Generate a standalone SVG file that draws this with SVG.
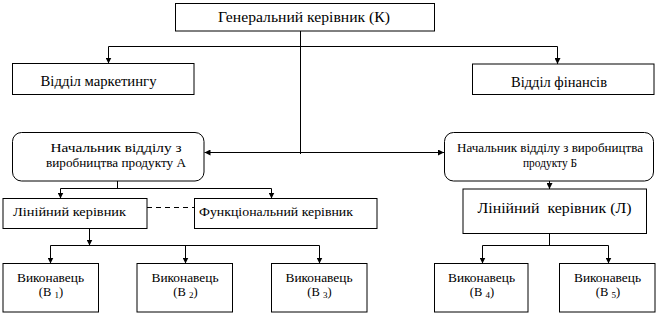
<svg xmlns="http://www.w3.org/2000/svg" width="668" height="316" viewBox="0 0 668 316">
<defs>
<marker id="ah" viewBox="0 0 6 6" refX="6" refY="3" markerWidth="6" markerHeight="6" markerUnits="userSpaceOnUse" orient="auto">
<path d="M0,0 L6,3 L0,6 z" fill="#000"/>
</marker>
<style>
rect{fill:#fff;stroke:#000;stroke-width:1}
text{font-family:'Liberation Serif','DejaVu Serif','Times New Roman',serif;fill:#000;text-anchor:middle}
.b{font-size:14px}
.s{font-size:11.5px}
.e{font-size:12.5px}
.sub{font-size:9px}
.c path{fill:none;stroke:#000;stroke-width:1}
.a{marker-end:url(#ah)}
</style>
</defs>
<g class="c" id="connectors">
<path d="M300.5,31 V154"/>
<path d="M108.5,46.5 H557.5"/>
<path class="a" d="M108.5,46.5 V63.5"/>
<path class="a" d="M557.5,46.5 V64"/>
<path class="a" d="M300.5,152.5 H204.5"/>
<path class="a" d="M300.5,152.5 H444"/>
<path d="M117.5,181 V188.5 M60.5,188.5 H271.5"/>
<path class="a" d="M60.5,188.5 V198.5"/>
<path class="a" d="M271.5,188.5 V198.5"/>
<path d="M147,207.5 H194.5" stroke-dasharray="5,4"/>
<path class="a" d="M89.5,228.5 V245.5"/>
<path d="M50.5,245.5 H319.5"/>
<path class="a" d="M50.5,245.5 V263.5"/>
<path class="a" d="M185.5,245.5 V263.5"/>
<path class="a" d="M319.5,245.5 V263.5"/>
<path class="a" d="M549.5,181 V189"/>
<path d="M549.5,233.5 V245.5 M482.5,245.5 H608.5"/>
<path class="a" d="M482.5,245.5 V263.5"/>
<path class="a" d="M608.5,245.5 V263.5"/>
</g>
<g id="gen"><rect x="175.5" y="3.5" width="259" height="27.5"/><text class="b" x="304" y="22" textLength="172" lengthAdjust="spacingAndGlyphs">Генеральний керівник (К)</text></g>
<g id="mkt"><rect x="12.5" y="63.5" width="181.5" height="31"/><text class="b" x="98.5" y="86" textLength="116" lengthAdjust="spacingAndGlyphs">Відділ маркетингу</text></g>
<g id="fin"><rect x="472.5" y="64" width="181.5" height="30.5"/><text class="b" x="559" y="87" textLength="96" lengthAdjust="spacingAndGlyphs">Відділ фінансів</text></g>
<g id="nachA"><rect x="12.5" y="132.5" width="191.5" height="48.5" rx="9"/>
<text class="s" x="116" y="152" textLength="131" lengthAdjust="spacingAndGlyphs">Начальник відділу з</text>
<text class="s" x="116" y="167" textLength="140" lengthAdjust="spacingAndGlyphs">виробництва продукту А</text></g>
<g id="nachB"><rect x="444.5" y="132.5" width="209" height="48.5" rx="9"/>
<text class="s" x="550" y="152" textLength="186" lengthAdjust="spacingAndGlyphs">Начальник відділу з виробництва</text>
<text class="s" x="550" y="167" textLength="54" lengthAdjust="spacingAndGlyphs">продукту Б</text></g>
<g id="lin"><rect x="3" y="198.5" width="144" height="30"/><text class="e" x="69.5" y="216" textLength="113" lengthAdjust="spacingAndGlyphs">Лінійний керівник</text></g>
<g id="func"><rect x="194.5" y="198.5" width="182.5" height="30"/><text class="e" x="276" y="216" textLength="154" lengthAdjust="spacingAndGlyphs">Функціональний керівник</text></g>
<g id="linL"><rect x="463" y="189" width="183.5" height="44.5"/><text class="b" x="554.5" y="213" textLength="154" lengthAdjust="spacingAndGlyphs" xml:space="preserve">Лінійний  керівник (Л)</text></g>
<g id="v1"><rect x="3" y="263.5" width="95.5" height="48.5"/><text class="e" x="50.5" y="282" textLength="67" lengthAdjust="spacingAndGlyphs">Виконавець</text><text class="e" x="51" y="296">(В <tspan class="sub" dy="2">1</tspan><tspan dy="-2">)</tspan></text></g>
<g id="v2"><rect x="137" y="263.5" width="95.5" height="48.5"/><text class="e" x="185" y="282" textLength="67" lengthAdjust="spacingAndGlyphs">Виконавець</text><text class="e" x="185.5" y="296">(В <tspan class="sub" dy="2">2</tspan><tspan dy="-2">)</tspan></text></g>
<g id="v3"><rect x="271.5" y="263.5" width="95.5" height="48.5"/><text class="e" x="319" y="282" textLength="67" lengthAdjust="spacingAndGlyphs">Виконавець</text><text class="e" x="319.5" y="296">(В <tspan class="sub" dy="2">3</tspan><tspan dy="-2">)</tspan></text></g>
<g id="v4"><rect x="434.5" y="263.5" width="93.5" height="48.5"/><text class="e" x="481.5" y="282" textLength="67" lengthAdjust="spacingAndGlyphs">Виконавець</text><text class="e" x="482" y="296">(В <tspan class="sub" dy="2">4</tspan><tspan dy="-2">)</tspan></text></g>
<g id="v5"><rect x="559.5" y="263.5" width="95.5" height="48.5"/><text class="e" x="607.5" y="282" textLength="67" lengthAdjust="spacingAndGlyphs">Виконавець</text><text class="e" x="608" y="296">(В <tspan class="sub" dy="2">5</tspan><tspan dy="-2">)</tspan></text></g>
</svg>
